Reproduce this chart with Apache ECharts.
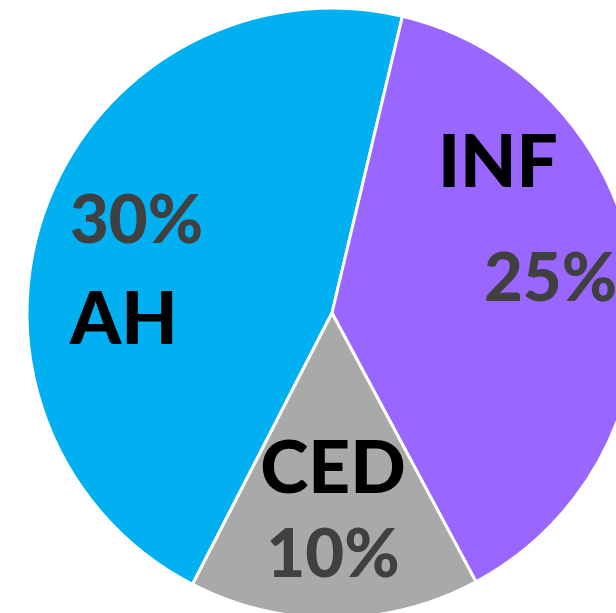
<!DOCTYPE html>
<html>
<head>
<meta charset="utf-8">
<script src="https://cdn.jsdelivr.net/npm/echarts@6/dist/echarts.min.js"></script>
<style>
  html, body { margin: 0; padding: 0; background: #fff; }
  #chart { width: 616px; height: 613px; }
</style>
</head>
<body>
<div id="chart"></div>
<script>
// 数据
const names = ['AH', 'INF', 'CED']
const values = [30, 25, 10]
const colors = ['#00B0F0', '#9966FF', '#A9A9A9']

const chart = echarts.init(document.getElementById('chart'))

// 每个扇区标签的样式（行距、顺序不同）
const labelCfg = [
  { formatter: '{v|{c}%}\n{n|{b}}', lineHeight: 99 },
  { formatter: '{n|{b}}\n{p|{c}%}', lineHeight: 116 },
  { formatter: '{n|{b}}\n{v|{c}%}', lineHeight: 86 }
]
// 标签位置
const labelPos = [
  { x: 70, y: 271, align: 'left' },
  { x: 438, y: 221, align: 'left' },
  { x: 333, y: 512, align: 'center' }
]

const seriesData = names.map((name, i) => {
  const lh = labelCfg[i].lineHeight
  return {
    name: name,
    value: values[i],
    itemStyle: { color: colors[i] },
    label: {
      formatter: labelCfg[i].formatter,
      rich: {
        n: { fontSize: 73, fontWeight: 900, color: '#000', fontFamily: 'Lato', lineHeight: lh },
        v: { fontSize: 67, fontWeight: 900, color: '#404040', fontFamily: 'Lato', lineHeight: lh },
        p: { fontSize: 67, fontWeight: 900, color: '#404040', fontFamily: 'Lato', lineHeight: lh, padding: [0, 0, 0, 46] }
      }
    }
  }
})

const option = {
  animation: false,
  series: [
    {
      type: 'pie',
      center: [332, 313],
      radius: 305,
      startAngle: 242.8,
      clockwise: true,
      data: seriesData,
      itemStyle: {
        borderColor: '#fff',
        borderWidth: 3
      },
      label: {
        show: true,
        position: 'inside'
      },
      labelLine: { show: false },
      labelLayout: (params) => {
        const p = labelPos[params.dataIndex]
        return { x: p.x, y: p.y, align: p.align, verticalAlign: 'middle' }
      }
    }
  ]
}

chart.setOption(option)
</script>
</body>
</html>
